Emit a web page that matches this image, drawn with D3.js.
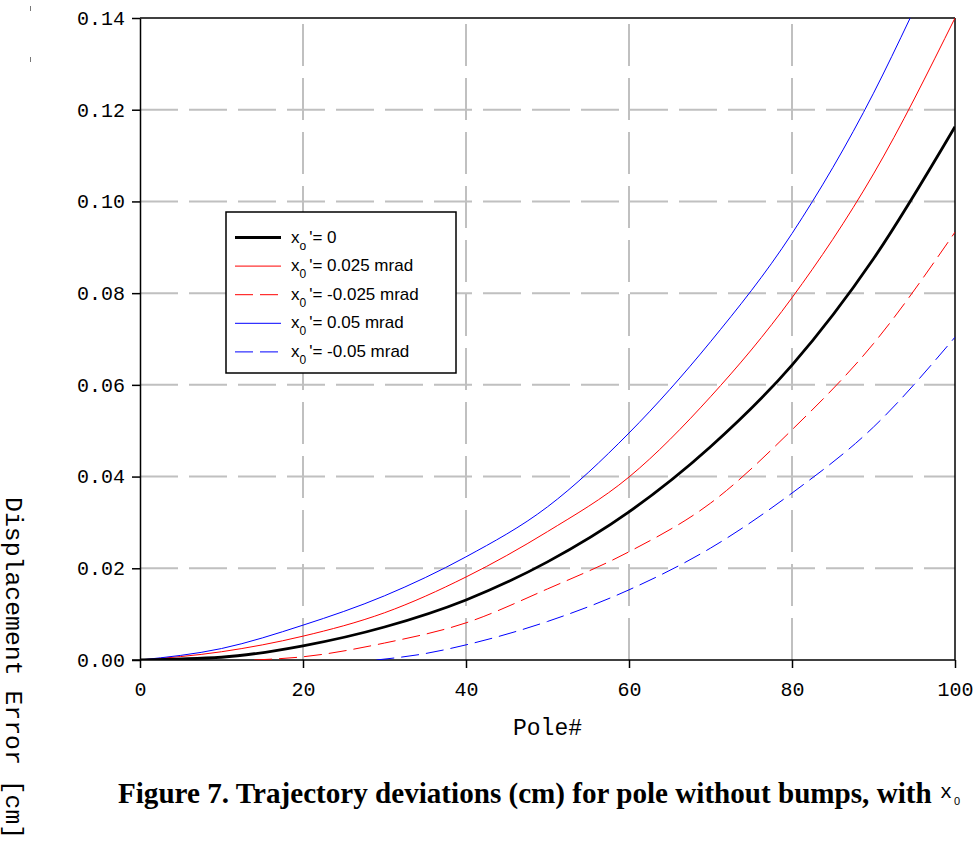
<!DOCTYPE html>
<html>
<head>
<meta charset="utf-8">
<script src="https://cdn.jsdelivr.net/npm/d3@7"></script>
<style>
  body { margin: 0; background: #fff; }
  svg { display: block; }
</style>
</head>
<body>
<div id="chart"></div>
<script>
// values (pole number -> displacement error in cm)
var poles = [0, 10, 20, 30, 40, 50, 60, 70, 80, 90, 100];
var zeroVals = [0, 0.0006, 0.0031, 0.0072, 0.0131, 0.0214, 0.0323, 0.0465, 0.0643, 0.0875, 0.1163];
var plus025Vals = [0, 0.0018, 0.0052, 0.0103, 0.0181, 0.0280, 0.0399, 0.0574, 0.0790, 0.1060, 0.1400];
var plus05Poles = [0, 10, 20, 30, 40, 50, 60, 70, 80, 90, 94.5];
var plus05Vals = [0, 0.0025, 0.0076, 0.0140, 0.0225, 0.0334, 0.0495, 0.0694, 0.0930, 0.1236, 0.1400];
var minus025Poles = [14, 20, 30, 40, 50, 60, 70, 80, 90, 100];
var minus025Vals = [0, 0.0007, 0.0037, 0.0081, 0.0155, 0.0236, 0.0342, 0.0502, 0.0690, 0.0933];
var minus05Poles = [29, 35, 40, 50, 60, 70, 80, 90, 100];
var minus05Vals = [0, 0.0014, 0.0033, 0.0084, 0.0153, 0.0244, 0.0364, 0.0508, 0.0704];

var legendLabels = ["'= 0", "'= 0.025 mrad", "'= -0.025 mrad", "'= 0.05 mrad", "'= -0.05 mrad"];
var legendSubs = ["o", "0", "0", "0", "0"];

var xTicks = [0, 20, 40, 60, 80, 100];
var yTicks = [0, 0.02, 0.04, 0.06, 0.08, 0.10, 0.12, 0.14];

var width = 978, height = 863;
var margin = {left: 140, top: 18, right: 23, bottom: 203};

var svg = d3.select("#chart").append("svg")
    .attr("width", width)
    .attr("height", height);

var x = d3.scaleLinear().domain([0, 100]).range([margin.left, width - margin.right]);
var y = d3.scaleLinear().domain([0, 0.14]).range([height - margin.bottom, margin.top]);

// grid
var grid = svg.append("g").attr("class", "grid");
grid.selectAll("line.h")
    .data(yTicks.slice(1, -1))
    .enter().append("line")
    .attr("x1", x(0)).attr("x2", x(100))
    .attr("y1", function (d) { return y(d); })
    .attr("y2", function (d) { return y(d); })
    .attr("stroke", "#c0c0c0")
    .attr("stroke-width", 2)
    .attr("stroke-dasharray", "38,11");
grid.selectAll("line.v")
    .data(xTicks.slice(1, -1))
    .enter().append("line")
    .attr("y1", y(0)).attr("y2", y(0.14))
    .attr("x1", function (d) { return x(d); })
    .attr("x2", function (d) { return x(d); })
    .attr("stroke", "#c0c0c0")
    .attr("stroke-width", 2)
    .attr("stroke-dasharray", "42,12");

// frame: top and right
svg.append("line")
    .attr("x1", x(0)).attr("x2", x(100))
    .attr("y1", y(0.14)).attr("y2", y(0.14))
    .attr("stroke", "#000").attr("stroke-width", 1.5);
svg.append("line")
    .attr("x1", x(100)).attr("x2", x(100))
    .attr("y1", y(0.14)).attr("y2", y(0))
    .attr("stroke", "#000").attr("stroke-width", 1.5);

// axes
var gy = svg.append("g")
    .attr("transform", "translate(" + x(0) + ",0)")
    .call(d3.axisLeft(y).tickValues(yTicks).tickSize(8).tickSizeOuter(0).tickPadding(7)
        .tickFormat(d3.format(".2f")));
var gx = svg.append("g")
    .attr("transform", "translate(0," + y(0) + ")")
    .call(d3.axisBottom(x).tickValues(xTicks).tickSize(8).tickSizeOuter(0).tickPadding(14));
[gx, gy].forEach(function (g) {
    g.select(".domain").attr("stroke", "#000").attr("stroke-width", 1.5);
    g.selectAll(".tick line").attr("stroke", "#000").attr("stroke-width", 1.5);
    g.selectAll(".tick text")
        .attr("fill", "#000")
        .attr("font-family", "'Liberation Mono', 'DejaVu Sans Mono', monospace")
        .attr("font-size", "20px");
});
gx.select(".domain").attr("d", "M" + (x(0) - 8) + ",0H" + x(100));

// curves
svg.append("clipPath").attr("id", "plotclip")
    .append("rect")
    .attr("x", x(0)).attr("y", y(0.14))
    .attr("width", x(100) - x(0)).attr("height", y(0) - y(0.14));

var series = [
    {px: poles, vals: zeroVals, color: "#000", w: 2.8, dash: null},
    {px: poles, vals: plus025Vals, color: "#ff0000", w: 1, dash: null},
    {px: minus025Poles, vals: minus025Vals, color: "#ff0000", w: 1, dash: "18,7"},
    {px: plus05Poles, vals: plus05Vals, color: "#0000ff", w: 1, dash: null},
    {px: minus05Poles, vals: minus05Vals, color: "#0000ff", w: 1, dash: "18,7"}
];

var line = d3.line()
    .x(function (d) { return x(d[0]); })
    .y(function (d) { return y(d[1]); })
    .curve(d3.curveMonotoneX);

var gLines = svg.append("g").attr("clip-path", "url(#plotclip)");
// thin lines first, black on top
[1, 2, 3, 4, 0].forEach(function (i) {
    var s = series[i];
    var pts = s.px.map(function (p, k) { return [p, s.vals[k]]; });
    gLines.append("path")
        .datum(pts)
        .attr("d", line)
        .attr("fill", "none")
        .attr("stroke", s.color)
        .attr("stroke-width", s.w)
        .attr("stroke-dasharray", s.dash);
});

// legend
var legend = svg.append("g").attr("class", "legend");
legend.append("rect")
    .attr("x", 226).attr("y", 212)
    .attr("width", 230).attr("height", 161)
    .attr("fill", "#fff")
    .attr("stroke", "#000")
    .attr("stroke-width", 1.5);
series.forEach(function (s, i) {
    var ry = 237.5 + i * 28.6;
    legend.append("line")
        .attr("x1", 235).attr("x2", 281)
        .attr("y1", ry).attr("y2", ry)
        .attr("stroke", s.color)
        .attr("stroke-width", s.w)
        .attr("stroke-dasharray", s.dash);
    var t = legend.append("text")
        .attr("x", 291)
        .attr("y", ry + 5)
        .attr("font-family", "'Liberation Sans', Arial, sans-serif")
        .attr("font-size", "17px")
        .attr("fill", "#000");
    t.append("tspan").text("x");
    t.append("tspan").attr("dy", 7).attr("font-size", "12px").text(legendSubs[i]);
    t.append("tspan").attr("dy", -7).attr("dx", 3).text(legendLabels[i]);
});

// axis titles
svg.append("text")
    .attr("x", x(50))
    .attr("y", 735)
    .attr("text-anchor", "middle")
    .attr("font-family", "'Liberation Mono', monospace")
    .attr("font-size", "23px")
    .attr("fill", "#000")
    .text("Pole#");

svg.append("text")
    .attr("transform", "translate(6,497) rotate(90)")
    .attr("font-family", "'Liberation Mono', monospace")
    .attr("font-size", "24.8px")
    .attr("fill", "#000")
    .text("Displacement Error [cm]");

// caption: shrink the font until the bold line fits before the x0 symbol
var capWidth = 814;
var cap = svg.append("text")
    .attr("x", 118)
    .attr("y", 803)
    .attr("fill", "#000")
    .attr("font-family", "'Liberation Serif', 'Times New Roman', serif")
    .attr("font-weight", "bold")
    .attr("font-size", "30px")
    .text("Figure 7. Trajectory deviations (cm) for pole without bumps, with");
var natural = cap.node().getComputedTextLength();
if (natural > capWidth) {
    cap.attr("font-size", (30 * capWidth / natural).toFixed(2) + "px");
}
var sym = svg.append("text")
    .attr("x", 940)
    .attr("y", 798)
    .attr("fill", "#000")
    .attr("font-family", "'Liberation Mono', monospace")
    .attr("font-size", "20px");
sym.append("tspan").text("x");
sym.append("tspan")
    .attr("dx", 2)
    .attr("dy", 7)
    .attr("font-family", "'Liberation Sans', sans-serif")
    .attr("font-size", "11px")
    .text("0");

// small stray marks top-left of the original
svg.selectAll("line.mark")
    .data([6, 57])
    .enter().append("line")
    .attr("x1", 30.5).attr("x2", 30.5)
    .attr("y1", function (d) { return d; })
    .attr("y2", function (d) { return d + 5; })
    .attr("stroke", "#777")
    .attr("stroke-width", 1);
</script>
</body>
</html>
